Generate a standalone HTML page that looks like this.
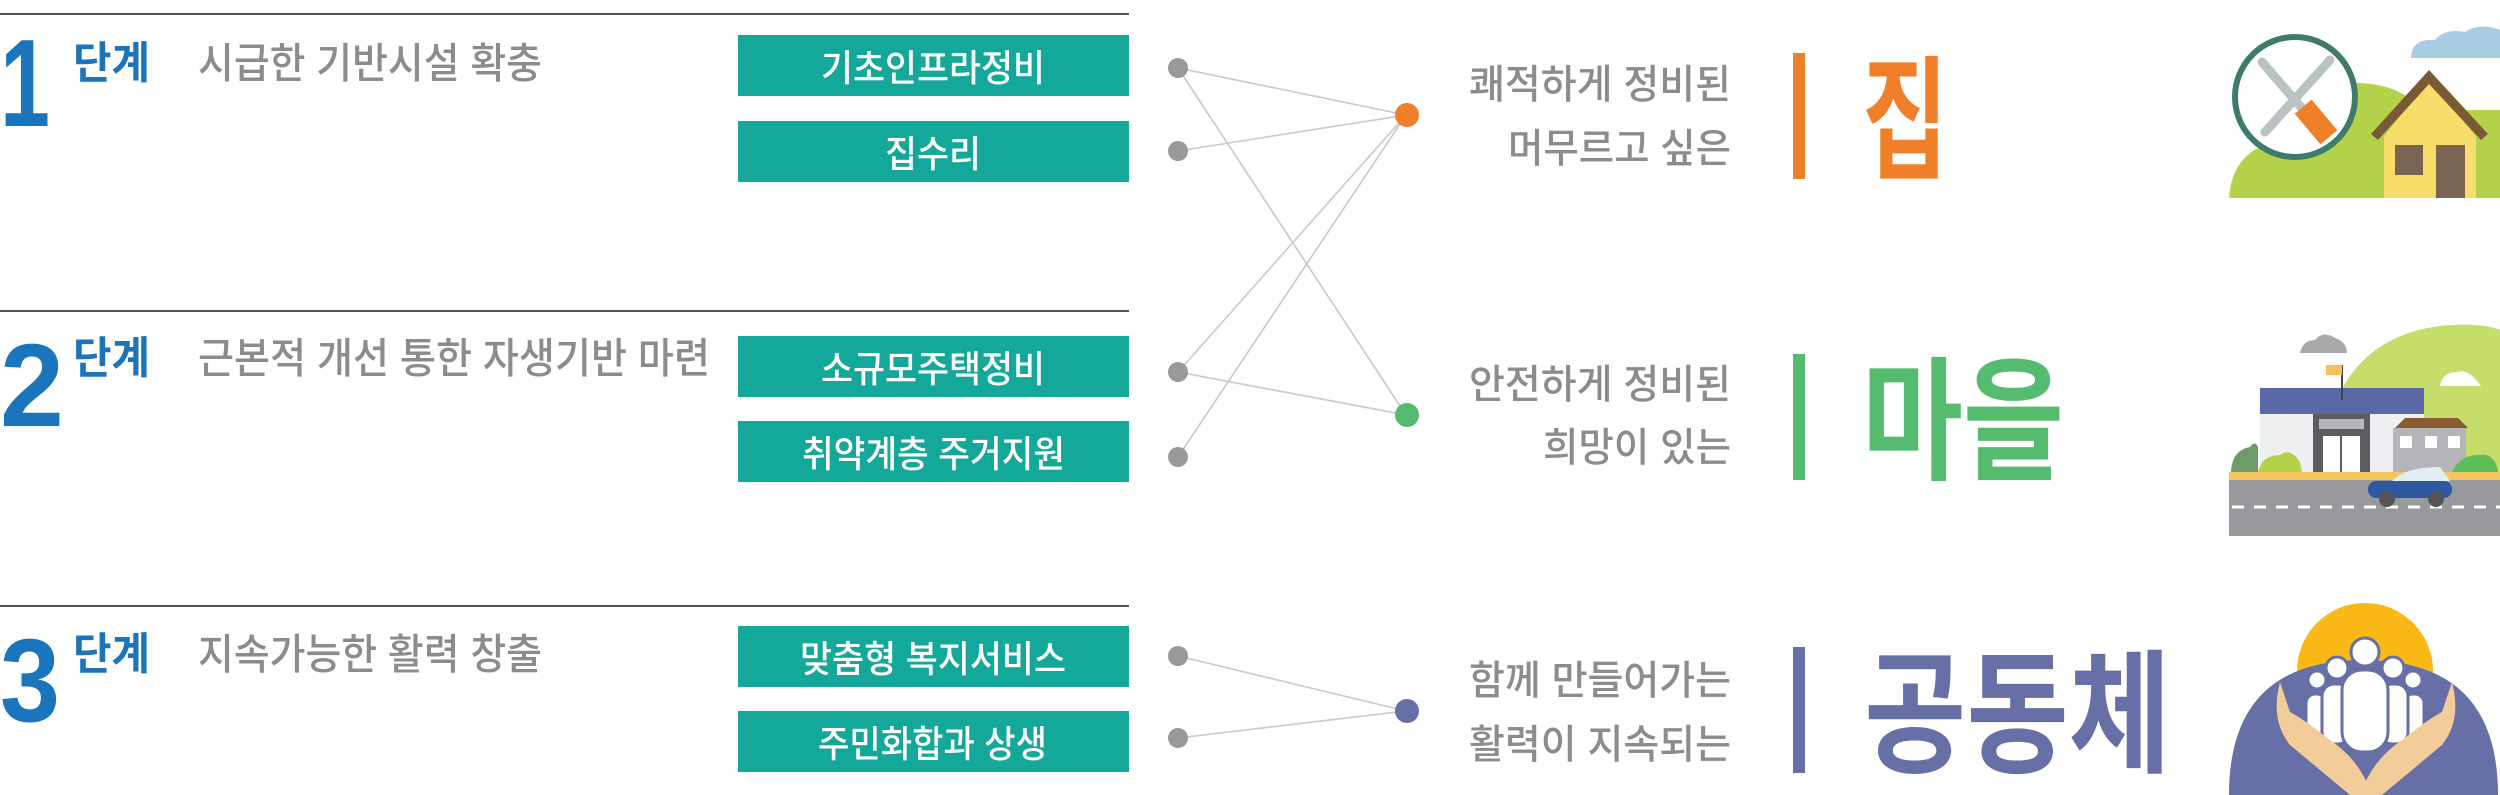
<!DOCTYPE html>
<html><head><meta charset="utf-8"><style>
html,body{margin:0;padding:0;background:#fff;width:2500px;height:795px;overflow:hidden}
svg{display:block}
text{font-family:"Liberation Sans","Noto Sans CJK KR",sans-serif}
</style></head><body>
<svg width="2500" height="795" viewBox="0 0 2500 795" xmlns="http://www.w3.org/2000/svg">
<g stroke="#555" stroke-width="2">
<line x1="0" y1="14" x2="1129" y2="14"/>
<line x1="0" y1="311" x2="1129" y2="311"/>
<line x1="0" y1="606" x2="1129" y2="606"/>
</g>
<g fill="#1b75bc" font-weight="bold">
<text x="0" y="126" font-size="124" textLength="50" lengthAdjust="spacingAndGlyphs">1</text>
<text x="0" y="426" font-size="118" textLength="64" lengthAdjust="spacingAndGlyphs">2</text>
<text x="0" y="721" font-size="118" textLength="60" lengthAdjust="spacingAndGlyphs">3</text>
</g>
<g fill="#1b75bc" font-weight="bold" font-size="44" font-family="Noto Sans CJK KR,sans-serif">
<text x="73" y="78" textLength="77" lengthAdjust="spacingAndGlyphs">단계</text>
<text x="73" y="373" textLength="77" lengthAdjust="spacingAndGlyphs">단계</text>
<text x="73" y="669" textLength="77" lengthAdjust="spacingAndGlyphs">단계</text>
</g>
<g fill="#8c8c8c" font-size="42" font-family="Noto Sans CJK KR,sans-serif" font-weight="500">
<text x="198" y="78" textLength="344" lengthAdjust="spacingAndGlyphs">시급한 기반시설 확충</text>
<text x="198" y="373" textLength="512" lengthAdjust="spacingAndGlyphs">근본적 개선 통한 자생기반 마련</text>
<text x="198" y="669" textLength="344" lengthAdjust="spacingAndGlyphs">지속가능한 활력 창출</text>
</g>
<g fill="#14a89a">
<rect x="738" y="35" width="391" height="61"/>
<rect x="738" y="121" width="391" height="61"/>
<rect x="738" y="336" width="391" height="61"/>
<rect x="738" y="421" width="391" height="61"/>
<rect x="738" y="626" width="391" height="61"/>
<rect x="738" y="711" width="391" height="61"/>
</g>
<g fill="#fff" font-size="37" font-weight="500" font-family="Noto Sans CJK KR,sans-serif">
<text x="821" y="81" textLength="224" lengthAdjust="spacingAndGlyphs">기초인프라정비</text>
<text x="885" y="167" textLength="96" lengthAdjust="spacingAndGlyphs">집수리</text>
<text x="821" y="382" textLength="224" lengthAdjust="spacingAndGlyphs">소규모주택정비</text>
<text x="802" y="467" textLength="263" lengthAdjust="spacingAndGlyphs">취약계층 주거지원</text>
<text x="800" y="672" textLength="266" lengthAdjust="spacingAndGlyphs">맞춤형 복지서비스</text>
<text x="818" y="757" textLength="229" lengthAdjust="spacingAndGlyphs">주민화합과 상생</text>
</g>
<g stroke="#c9c9c9" stroke-width="1.6">
<line x1="1178" y1="68" x2="1406" y2="115"/>
<line x1="1178" y1="68" x2="1406" y2="415"/>
<line x1="1178" y1="151" x2="1406" y2="115"/>
<line x1="1178" y1="372" x2="1406" y2="115"/>
<line x1="1178" y1="372" x2="1406" y2="415"/>
<line x1="1178" y1="457" x2="1406" y2="115"/>
<line x1="1178" y1="656" x2="1406" y2="711"/>
<line x1="1178" y1="738" x2="1406" y2="711"/>
</g>
<g fill="#999">
<circle cx="1178" cy="68" r="10"/><circle cx="1178" cy="151" r="10"/>
<circle cx="1178" cy="372" r="10"/><circle cx="1178" cy="457" r="10"/>
<circle cx="1178" cy="656" r="10"/><circle cx="1178" cy="738" r="10"/>
</g>
<circle cx="1407" cy="115" r="12" fill="#f07f2a"/>
<circle cx="1407" cy="415" r="12" fill="#55bb6e"/>
<circle cx="1407" cy="711" r="12" fill="#6670a6"/>
<g fill="#8c8c8c" font-size="40" font-family="Noto Sans CJK KR,sans-serif" font-weight="500">
<text x="1469" y="98" textLength="262" lengthAdjust="spacingAndGlyphs">쾌적하게 정비된</text>
<text x="1508" y="162" textLength="223" lengthAdjust="spacingAndGlyphs">머무르고 싶은</text>
<text x="1469" y="398" textLength="262" lengthAdjust="spacingAndGlyphs">안전하게 정비된</text>
<text x="1543" y="461" textLength="188" lengthAdjust="spacingAndGlyphs">희망이 있는</text>
<text x="1469" y="694" textLength="262" lengthAdjust="spacingAndGlyphs">함께 만들어가는</text>
<text x="1469" y="758" textLength="262" lengthAdjust="spacingAndGlyphs">활력이 지속되는</text>
</g>
<rect x="1793" y="53" width="12" height="126" fill="#f07f2a"/>
<rect x="1793" y="354" width="12" height="126" fill="#55bb6e"/>
<rect x="1793" y="647" width="12" height="126" fill="#6670a6"/>
<g font-weight="bold" font-family="Noto Sans CJK KR,sans-serif">
<text x="1862" y="168" font-size="134" fill="#f07f2a" textLength="86" lengthAdjust="spacingAndGlyphs">집</text>
<text x="1862" y="469" font-size="134" fill="#55bb6e" textLength="202" lengthAdjust="spacingAndGlyphs">마을</text>
<text x="1864" y="762" font-size="134" fill="#6670a6" textLength="307" lengthAdjust="spacingAndGlyphs">공동체</text>
</g>
<!-- house icon -->
<path d="M2411 58 Q2412 38 2435 40 Q2445 28 2465 32 Q2480 22 2500 30 L2500 58 Z" fill="#a8cde0"/>
<path d="M2229 198 Q2232 150 2280 140 Q2300 95 2340 83 Q2400 80 2420 110 L2500 110 L2500 198 Z" fill="#b5d34a"/>
<circle cx="2295" cy="97" r="60" fill="#fff" stroke="#3f7b6d" stroke-width="6"/>
<g stroke="#b9c3c3" stroke-width="9" stroke-linecap="round">
<line x1="2262" y1="62" x2="2325" y2="135"/>
<line x1="2330" y1="60" x2="2265" y2="132"/>
</g>
<rect x="2305" y="102" width="22" height="40" fill="#f07f2a" transform="rotate(-40 2316 122)"/>
<path d="M2429 78 L2384 137 L2384 198 L2476 198 L2476 137 Z" fill="#f7dd6a"/>
<path d="M2429 70 L2371 134 L2378 140 L2429 84 L2481 140 L2488 134 Z" fill="#7a5a35"/>
<rect x="2395" y="145" width="28" height="30" fill="#7a6555"/>
<rect x="2436" y="145" width="29" height="53" fill="#7a6555"/>
<!-- village icon -->
<path d="M2320 472 Q2330 340 2440 326 Q2480 322 2500 330 L2500 472 Z" fill="#c5dd6a"/>
<path d="M2300 353 Q2303 340 2315 340 Q2323 330 2335 338 Q2347 342 2347 353 Z" fill="#a9a9ab"/>
<path d="M2440 386 Q2442 372 2458 372 Q2468 368 2481 386 Z" fill="#fff"/>
<rect x="2260" y="388" width="164" height="26" fill="#5a68a8"/>
<rect x="2260" y="414" width="164" height="58" fill="#eeeff1"/>
<rect x="2313" y="414" width="57" height="58" fill="#5b5d60"/>
<rect x="2319" y="419" width="45" height="10" fill="#b7b8bb"/>
<rect x="2323" y="436" width="37" height="36" fill="#fff"/>
<line x1="2341" y1="436" x2="2341" y2="472" stroke="#5b5d60" stroke-width="2"/>
<line x1="2342" y1="365" x2="2342" y2="400" stroke="#444" stroke-width="2"/>
<rect x="2326" y="365" width="16" height="10" fill="#f5c35c"/>
<rect x="2393" y="428" width="73" height="44" fill="#b3b5b8"/>
<path d="M2395 428 L2405 418 L2458 418 L2468 428 Z" fill="#8a5a32"/>
<g fill="#fff"><rect x="2400" y="436" width="12" height="12"/><rect x="2425" y="436" width="12" height="12"/><rect x="2448" y="436" width="12" height="12"/></g>
<path d="M2231 472 Q2232 450 2250 447 Q2255 440 2258 447 L2258 472 Z" fill="#6f9b6a"/>
<path d="M2258 472 Q2262 455 2280 455 Q2290 447 2300 462 L2302 472 Z" fill="#b5d34a"/>
<path d="M2452 472 Q2460 455 2478 455 Q2495 452 2498 472 Z" fill="#5cbd5a"/>
<rect x="2229" y="472" width="271" height="8" fill="#f6c75e"/>
<rect x="2229" y="480" width="271" height="56" fill="#98999c"/>
<line x1="2232" y1="507" x2="2500" y2="507" stroke="#fff" stroke-width="3" stroke-dasharray="12 10"/>
<path d="M2392 481 Q2405 467 2440 467 L2450 481 Z" fill="#e2eef2"/>
<rect x="2368" y="481" width="84" height="17" rx="8" fill="#2f58a3"/>
<circle cx="2387" cy="499" r="8" fill="#555"/><circle cx="2436" cy="499" r="8" fill="#555"/>
<!-- community icon -->
<circle cx="2365" cy="671" r="68" fill="#fbb917"/>
<path d="M2229 795 Q2229 660 2363 660 Q2498 660 2498 795 Z" fill="#6670a6"/>
<g fill="#fff" stroke="#6670a6" stroke-width="3">
<circle cx="2365" cy="652" r="14"/>
<circle cx="2337" cy="668" r="11"/><circle cx="2393" cy="668" r="11"/>
<circle cx="2317" cy="680" r="9"/><circle cx="2413" cy="680" r="9"/>
<rect x="2306" y="694" width="20" height="44" rx="9"/><rect x="2404" y="694" width="20" height="44" rx="9"/>
<rect x="2322" y="684" width="28" height="60" rx="12"/><rect x="2380" y="684" width="28" height="60" rx="12"/>
<rect x="2342" y="670" width="46" height="82" rx="20"/>
</g>
<path d="M2280 682 Q2270 720 2290 745 Q2320 770 2350 795 L2372 795 Q2360 760 2330 740 Q2305 720 2290 712 Z" fill="#f2cc99"/>
<path d="M2452 682 Q2462 720 2442 745 Q2412 770 2382 795 L2360 795 Q2372 760 2402 740 Q2427 720 2442 712 Z" fill="#f2cc99"/>
</svg>
</body></html>
